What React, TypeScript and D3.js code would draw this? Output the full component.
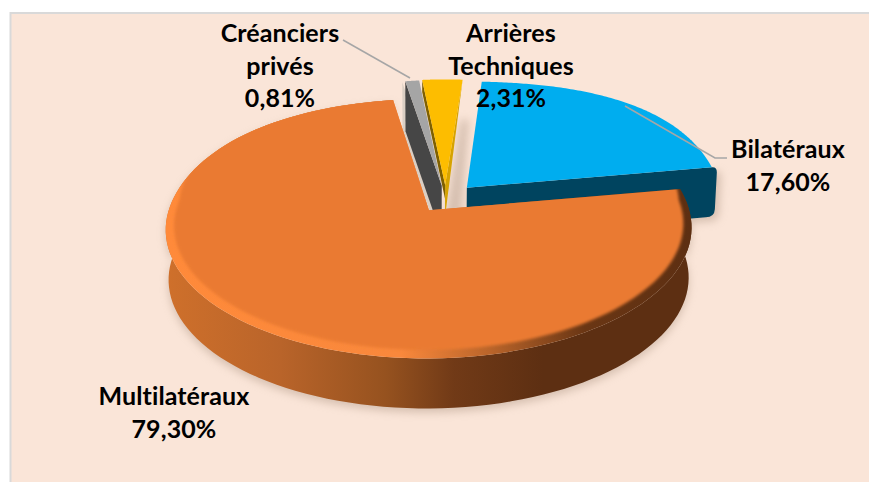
import React from "react";
import * as d3 from "d3";

// Slice order runs clockwise from the top of the pie.
const categories = ["Bilatéraux", "Multilatéraux", "Créanciers privés", "Arrières Techniques"];
const drawnShares = [21.0, 75.1, 1.0, 2.9];
const labelLines = [["Bilatéraux", "17,60%"], ["Multilatéraux", "79,30%"], ["Créanciers", "privés", "0,81%"], ["Arrières", "Techniques", "2,31%"]];
const topColors = ["#00adef", "#ea7a30", "#a5a5a5", "#fdbd00"];
const rimFullness = [0.05, 0.015, 0, 0];
const explosions = [0.125, 0.11, 0.11, 0.115];
const firstAngleDeg = 4.5;

const W = 869, H = 482;
const Cx = 445.5, Cy = 199, Rx = 257, Ry = 124, persp = 0.14, depth = 50;

type P = [number, number];
const project = (u: number, v: number): P => {
  const k = 1 - persp * v;
  return [Cx + (Rx * u) / k, Cy + (Ry * v) / k];
};
const down = (p: P, d = depth): P => [428 + (p[0] - 428) * (1 - 0.011 * (d / depth)), p[1] + d];
const line = d3.line<P>().x((d) => d[0]).y((d) => d[1]);
const closed = (pts: P[]) => line(pts) + "Z";

const pie = d3.pie<number>().sort(null).startAngle((firstAngleDeg * Math.PI) / 180).endAngle((firstAngleDeg * Math.PI) / 180 + 2 * Math.PI);
const arcs = pie(drawnShares).map((a, idx) => {
  const mid = (a.startAngle + a.endAngle) / 2;
  const ox = explosions[idx] * Math.sin(mid), oy = -explosions[idx] * Math.cos(mid);
  const rim = (t: number, r = 1, dv = 0, full = rimFullness[idx]): P => {
    const back = Math.cos(t) > 0 ? Math.sin(2 * t) ** 2 : 0;
    const rr = r * (1 + full * back);
    return project(ox + rr * Math.sin(t), oy + dv - rr * Math.cos(t));
  };
  const ts = d3.range(0, 121).map((i) => a.startAngle + ((a.endAngle - a.startAngle) * i) / 120);
  const apex = project(ox, oy);
  return { apex, rim, ts, start: a.startAngle, end: a.endAngle, top: [apex, ...ts.map((t) => rim(t))] as P[] };
});
const [blue, orange, grey, yellow] = arcs;

const frontTs = orange.ts;
const orangeWall: P[] = [...frontTs.map((t) => orange.rim(t)), ...frontTs.slice().reverse().map((t) => down(orange.rim(t)))];
const circleTs = d3.range(0, 181).map((i) => (i * Math.PI) / 90);
const orangeInner = circleTs.map((t) => orange.rim(t, 0.972, -0.022, 0));
const orangeInnerBack = circleTs.map((t) => orange.rim(t, 0.975, -0.18, 0));

const blueEnd = blue.rim(blue.end);
const bluePath = (() => {
  const [x, y] = blueEnd;
  const a = blue.apex;
  const b = down(a);
  return `M${a[0]},${a[1]}L${x},${y}Q${x + 5},${y - 0.5} ${x + 5},${y + 5}L${x + 3},${y + depth - 8}Q${x + 2.5},${y + depth} ${x - 6},${y + depth}L${b[0]},${b[1]}Z`;
})();

const yellowRight = yellow.rim(yellow.end);
const yellowLeft = yellow.rim(yellow.start);
const greyLeft = grey.rim(grey.start);

const labelPos: { x: number; y: number }[] = [
  { x: 788, y: 158 },
  { x: 174, y: 405 },
  { x: 280, y: 42 },
  { x: 511, y: 42 },
];
const lineGap = 32.5;

export default function App() {
  return (
    <svg width={W} height={H} style={{ position: "absolute", left: 0, top: 0 }} viewBox={`0 0 ${W} ${H}`}>
      <defs>
        <linearGradient id="wall" gradientUnits="userSpaceOnUse" x1={165} x2={690} y1={0} y2={0}>
          <stop offset="0" stopColor="#cf702b" />
          <stop offset="0.22" stopColor="#b9642a" />
          <stop offset="0.42" stopColor="#96521f" />
          <stop offset="0.55" stopColor="#713a17" />
          <stop offset="0.72" stopColor="#5d2f12" />
          <stop offset="1" stopColor="#5d2f12" />
        </linearGradient>
        <linearGradient id="bevel" gradientUnits="userSpaceOnUse" x1={165} x2={690} y1={0} y2={0}>
          <stop offset="0" stopColor="#ff8a3a" />
          <stop offset="0.45" stopColor="#f9883c" />
          <stop offset="0.62" stopColor="#b9642a" />
          <stop offset="0.8" stopColor="#6a3614" />
          <stop offset="1" stopColor="#5d2f12" />
        </linearGradient>
        <filter id="soft" x="-20%" y="-20%" width="140%" height="140%"><feGaussianBlur stdDeviation="4" /></filter>
        <filter id="soft2" x="-20%" y="-20%" width="140%" height="140%"><feGaussianBlur stdDeviation="1.6" /></filter>
        <clipPath id="orangeClip"><path d={closed(orange.top)} /></clipPath>
      </defs>
      <rect x={10.5} y={13} width={W} height={H} fill="#fae5d8" stroke="#d9d9d9" strokeWidth={2} />

      <g filter="url(#soft)" opacity={0.55}>
        <path d={closed(orangeWall)} transform="translate(0,4)" fill="#b8a08f" />
        <path d={bluePath} transform="translate(4,4)" fill="#b8a08f" />
        <path d={closed([[yellowRight[0] - 2, yellowRight[1] + 40], [yellowRight[0] + 6, yellowRight[1] + 40], [yellow.apex[0] + 16, yellow.apex[1] + 35], [yellow.apex[0], yellow.apex[1] + 35]])} fill="#b8a08f" />
      </g>

      <path d={bluePath} fill="#00445f" />
      <path d={closed(blue.top)} fill={topColors[0]} />

      <path d={closed([yellowRight, yellow.apex, down(yellow.apex, 32)])} fill="#d6a300" />
      <path d={closed([yellowLeft, yellow.apex, down(yellow.apex, 14), down(yellowLeft, 12)])} fill="#7f6000" />
      <path d={closed(yellow.top)} fill={topColors[3]} />

      <path d={closed([greyLeft, grey.apex, down(grey.apex), down(greyLeft)])} fill="#dbcfc4" transform="translate(-3,1)" />
      <path d={closed([greyLeft, grey.apex, down(grey.apex), down(greyLeft)])} fill="#464646" />
      <path d={closed(grey.top)} fill={topColors[2]} />

      <path d={closed(orangeWall)} fill="url(#wall)" />
      <path d={closed(orange.top)} fill="url(#bevel)" />
      <g clipPath="url(#orangeClip)">
        <g filter="url(#soft2)">
          <path d={closed(orangeInner)} fill={topColors[1]} />
          <path d={closed(orangeInnerBack)} fill={topColors[1]} />
        </g>
      </g>

      <polyline points="343,40 410,78" fill="none" stroke="#a6a6a6" strokeWidth={1.5} />
      <polyline points="625,106 715,158 727,158" fill="none" stroke="#a6a6a6" strokeWidth={1.5} />

      <g fontFamily="Lato, 'Open Sans', sans-serif" fontWeight={700} fontSize={25} letterSpacing={0.1} textAnchor="middle" fill="#000">
        {categories.map((c, i) => (
          <text key={c} x={labelPos[i].x} y={labelPos[i].y}>
            {labelLines[i].map((t, j) => (
              <tspan key={t} x={labelPos[i].x} y={labelPos[i].y + j * lineGap}>{t}</tspan>
            ))}
          </text>
        ))}
      </g>
    </svg>
  );
}
